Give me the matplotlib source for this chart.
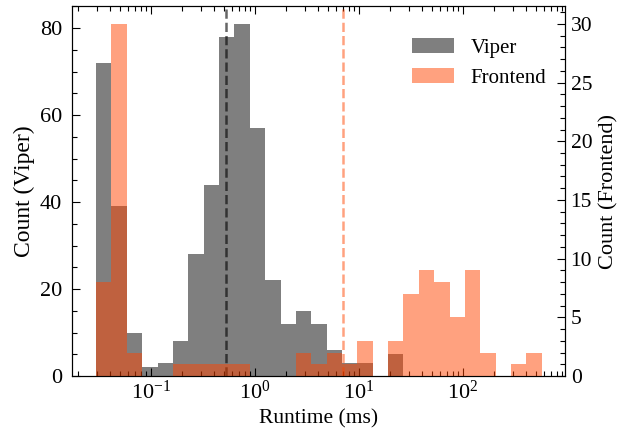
import numpy as np
import matplotlib.pyplot as plt
from matplotlib.ticker import MultipleLocator
from matplotlib.patches import Patch

plt.rcParams['font.family'] = ['Liberation Serif', 'DejaVu Serif']
plt.rcParams['mathtext.fontset'] = 'stix'
plt.rcParams['font.size'] = 15

# shared log bins (29 bins)
bin_edges = np.logspace(-1.529, 2.757, 30)
viper_counts = [72, 39, 10, 2, 3, 8, 28, 44, 78, 81, 57, 22, 12, 15, 12,
                6, 3, 3, 0, 5, 0, 0, 0, 0, 0, 0, 0, 0, 0]
frontend_counts = [8, 30, 2, 0, 0, 1, 1, 1, 1, 1, 0, 0, 0, 2, 1,
                   2, 1, 3, 0, 3, 7, 9, 8, 5, 9, 2, 0, 1, 2]
viper_mark = 0.53
frontend_mark = 7.06

fig = plt.figure(figsize=(6.21, 4.36), dpi=100)
ax1 = fig.add_axes([0.116, 0.1376, 0.794, 0.848])
ax1.set_xscale('log')
ax1.hist(bin_edges[:-1], bins=bin_edges, weights=viper_counts,
         color='k', alpha=0.5)
ax1.axvline(viper_mark, color='k', alpha=0.6, ls='--', lw=1.8)

ax2 = ax1.twinx()
ax2.hist(bin_edges[:-1], bins=bin_edges, weights=frontend_counts,
         color='orangered', alpha=0.5)
ax2.axvline(frontend_mark, color='orangered', alpha=0.5, ls='--', lw=1.8)

ax1.set_xlim(10**-1.76, 10**2.981)
ax1.yaxis.set_major_locator(MultipleLocator(20))
ax1.yaxis.set_minor_locator(MultipleLocator(5))
ax2.yaxis.set_major_locator(MultipleLocator(5))
ax2.yaxis.set_minor_locator(MultipleLocator(1))

ax1.tick_params(which='both', direction='in', top=True, right=False,
                width=0.8, labelsize=16)
ax1.tick_params(axis='y', pad=7)
ax1.tick_params(which='major', length=6)
ax1.tick_params(which='minor', length=3.5)
ax2.tick_params(which='both', direction='in', width=0.8, labelsize=15.5,
                pad=4)
ax2.tick_params(which='major', length=6)
ax2.tick_params(which='minor', length=3.5)
for ax in (ax1, ax2):
    for s in ax.spines.values():
        s.set_linewidth(0.8)

ax1.set_xlabel('Runtime (ms)', fontsize=15.5)
ax1.set_ylabel('Count (Viper)', fontsize=17)
ax2.set_ylabel('Count (Frontend)', fontsize=16, labelpad=5)

handles = [Patch(facecolor='k', edgecolor='none', alpha=0.5, label='Viper'),
           Patch(facecolor='orangered', edgecolor='none', alpha=0.5,
                 label='Frontend')]
ax2.legend(handles=handles, loc='upper right', bbox_to_anchor=(1, 0.965),
           frameon=False)

fig.savefig('out.png', dpi=100)
